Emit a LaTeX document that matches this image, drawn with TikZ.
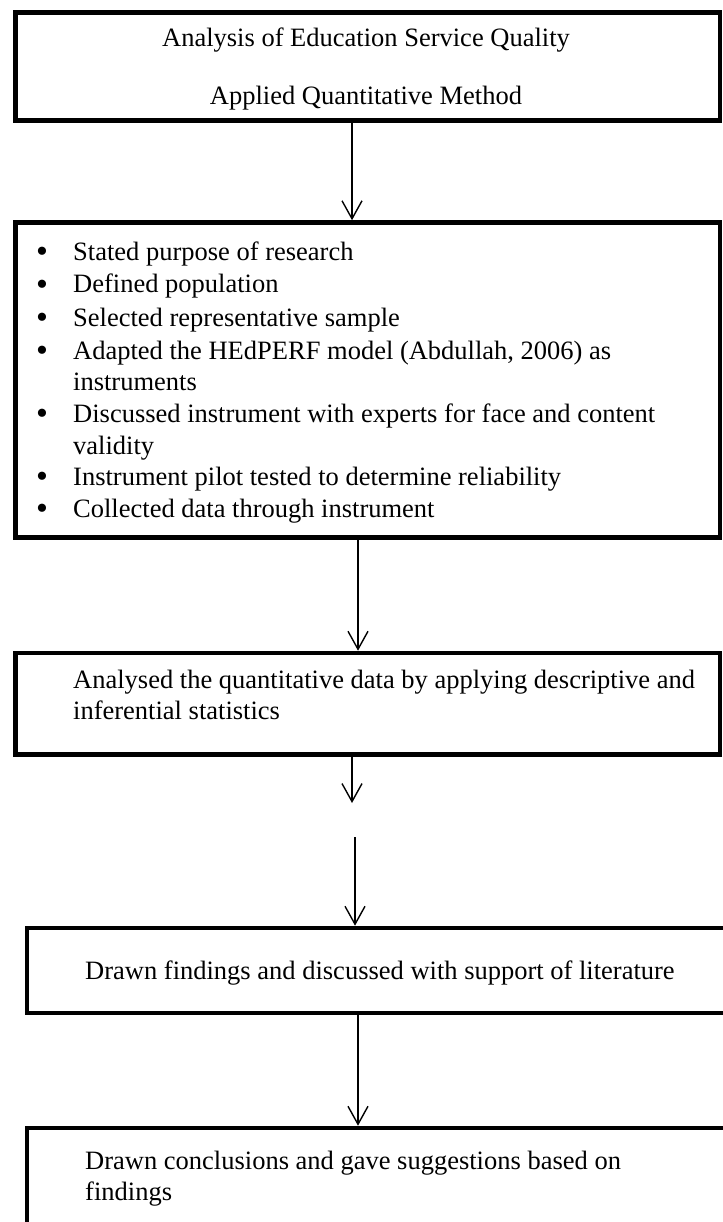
\documentclass[tikz,border=0pt]{standalone}
\usepackage{fontspec}
\setmainfont{Liberation Serif}
\usetikzlibrary{arrows.meta}
\begin{document}
\begin{tikzpicture}[x=1pt,y=-1pt,
  flowbox/.style={draw=black,line width=4.6pt,rectangle,inner sep=0pt,fill=none},
  txt/.style={font=\fontsize{26.5}{31}\selectfont,inner sep=0pt,anchor=base west},
  ctxt/.style={font=\fontsize{26.5}{31}\selectfont,inner sep=0pt,anchor=base},
  bul/.style={font=\fontsize{34}{31}\selectfont,inner sep=0pt,anchor=base},
  arr/.style={draw=black,line width=1.4pt,-{Straight Barb[length=18pt,width=20pt]}}]
\useasboundingbox (0,0) rectangle (722,1222);
\fill[white] (0,0) rectangle (722,1222);
% boxes
\node[flowbox,minimum width=704.5pt,minimum height=108pt] (b1) at (367.75,66.5) {};
\node[flowbox,minimum width=704.5pt,minimum height=315pt] (b2) at (367.75,380) {};
\node[flowbox,minimum width=704.5pt,minimum height=101.5pt] (b3) at (367.75,703.75) {};
\node[flowbox,minimum width=713pt,minimum height=85pt] (b4) at (383.5,970.5) {};
\node[flowbox,minimum width=713pt,minimum height=112pt] (b5) at (383.5,1184) {};
% box 1 text
\node[ctxt] (t1a) at (366,47) {Analysis of Education Service Quality};
\node[ctxt] (t1b) at (366,105) {Applied Quantitative Method};
% box 2 list
\node[bul] (u1) at (42,263) {\textbullet};
\node[txt] (l1) at (73,261) {Stated purpose of research};
\node[bul] (u2) at (42,295) {\textbullet};
\node[txt] (l2) at (73,293) {Defined population};
\node[bul] (u3) at (42,328) {\textbullet};
\node[txt] (l3) at (73,326) {Selected representative sample};
\node[bul] (u4) at (42,361) {\textbullet};
\node[txt] (l4) at (73,359) {Adapted the HEdPERF model (Abdullah, 2006) as};
\node[txt] (l4b) at (73,390) {instruments};
\node[bul] (u5) at (42,424) {\textbullet};
\node[txt] (l5) at (73,422) {Discussed instrument with experts for face and content};
\node[txt] (l5b) at (73,454) {validity};
\node[bul] (u6) at (42,487) {\textbullet};
\node[txt] (l6) at (73,485) {Instrument pilot tested to determine reliability};
\node[bul] (u7) at (42,519) {\textbullet};
\node[txt] (l7) at (73,517) {Collected data through instrument};
% box 3
\node[txt] (t3a) at (73,688) {Analysed the quantitative data by applying descriptive and};
\node[txt] (t3b) at (73,719) {inferential statistics};
% box 4
\node[txt] (t4) at (85,979) {Drawn findings and discussed with support of literature};
% box 5
\node[txt] (t5a) at (85,1169) {Drawn conclusions and gave suggestions based on};
\node[txt] (t5b) at (85,1200) {findings};
% arrows
\coordinate (e3) at (352,803);
\coordinate (s4) at (355,837);
\draw[arr] (352,0 |- b1.south) -- (352,0 |- b2.north);
\draw[arr] (358,0 |- b2.south) -- (358,0 |- b3.north);
\draw[arr] (352,0 |- b3.south) -- (e3);
\draw[arr] (s4) -- (s4 |- b4.north);
\draw[arr] (358,0 |- b4.south) -- (358,0 |- b5.north);
\end{tikzpicture}
\end{document}
